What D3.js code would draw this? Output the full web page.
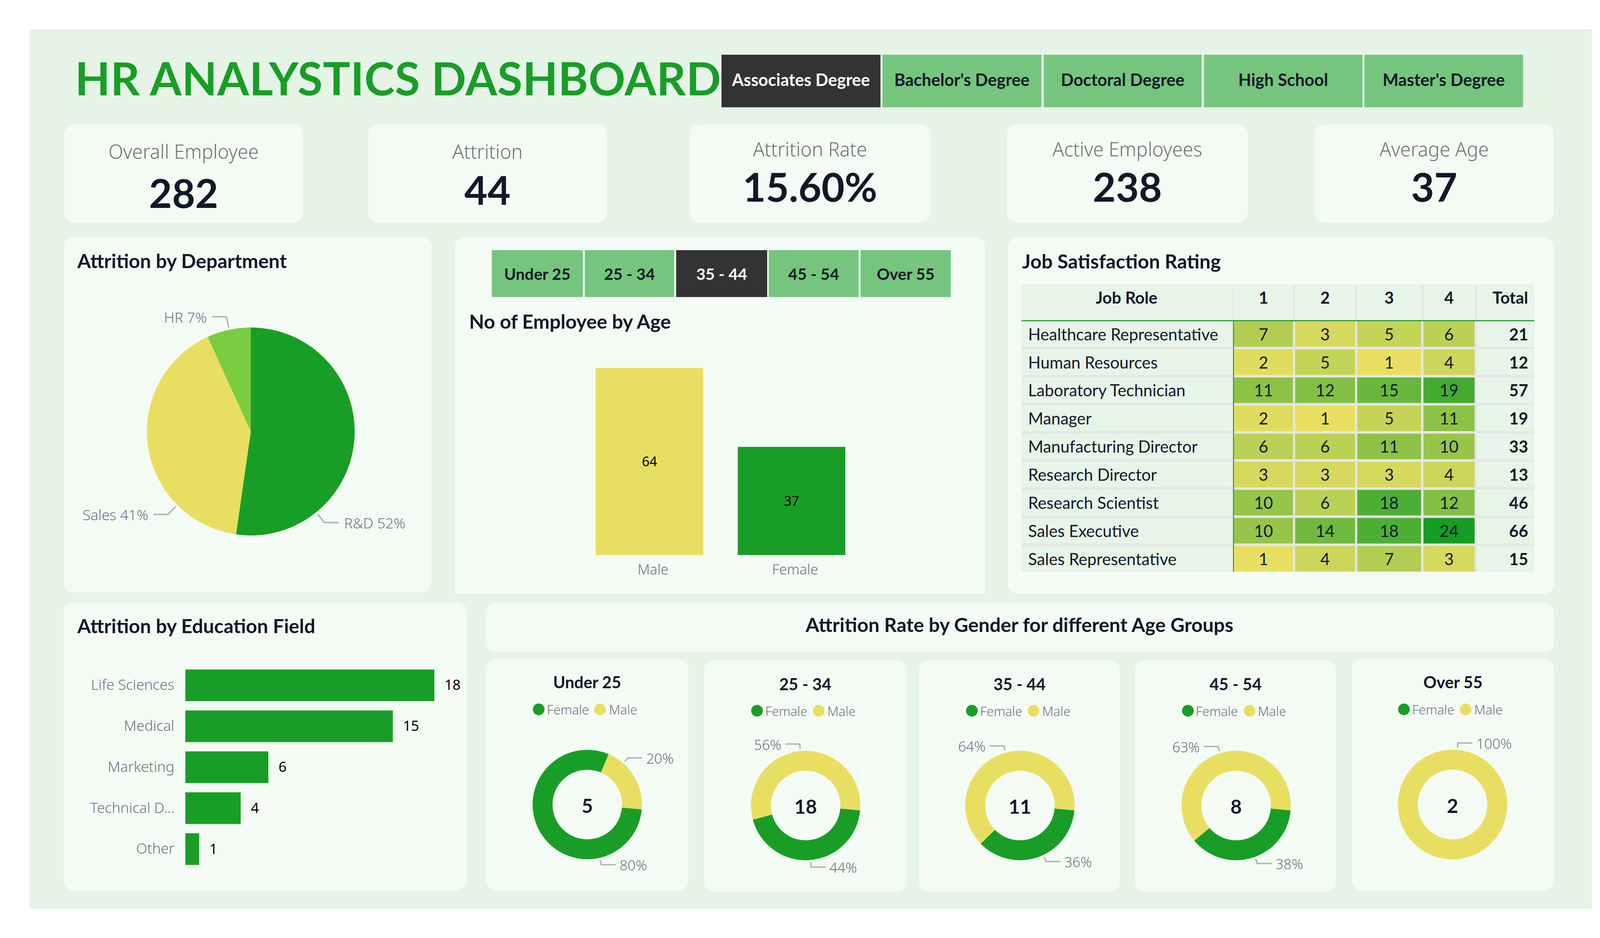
<!DOCTYPE html>
<html><head><meta charset="utf-8">
<script src="https://cdnjs.cloudflare.com/ajax/libs/d3/7.8.5/d3.min.js"></script>
<style>html,body{margin:0;padding:0;background:#fff}svg{display:block}</style></head>
<body><svg id="c" width="4150" height="2400" viewBox="0 0 4150 2400"></svg>
<script>
// ---------- data ----------
const dashboardTitle = "HR ANALYSTICS DASHBOARD";
const degreeOptions = ["Associates Degree","Bachelor's Degree","Doctoral Degree","High School","Master's Degree"];
const selectedDegree = "Associates Degree";
const ageOptions = ["Under 25","25 - 34","35 - 44","45 - 54","Over 55"];
const selectedAge = "35 - 44";
const kpiLabels = ["Overall Employee","Attrition","Attrition Rate","Active Employees","Average Age"];
const kpiValues = ["282","44","15.60%","238","37"];
const departments = ["R&D","Sales","HR"];
const departmentAttrition = [23,18,3];
const genderLabels = ["Male","Female"];
const employeesByGender = [64,37];
const jobRoles = ["Healthcare Representative","Human Resources","Laboratory Technician","Manager","Manufacturing Director","Research Director","Research Scientist","Sales Executive","Sales Representative"];
const ratings = ["1","2","3","4"];
const rating1 = [7,2,11,2,6,3,10,10,1];
const rating2 = [3,5,12,1,6,3,6,14,4];
const rating3 = [5,1,15,5,11,3,18,18,7];
const rating4 = [6,4,19,11,10,4,12,24,3];
const roleTotals = [21,12,57,19,33,13,46,66,15];
const educationFields = ["Life Sciences","Medical","Marketing","Technical D...","Other"];
const educationAttrition = [18,15,6,4,1];
const femaleByAge = [4,8,4,3,0];
const maleByAge = [1,10,7,5,2];

// ---------- style ----------
const HEAD = "Lato, sans-serif", BODY = "'Noto Sans', sans-serif";
const GREEN="#189E26", YELLOW="#E8DF62", LIME="#7ACC40", INK="#111827", GREY="#6B7280", LEAD="#ADB1B7";
const PANEL="#E6F4E8", CARD="#F4FBF4", CHIP="#75C57F", DARK="#333333";
const svg = d3.select("#c");

function rect(g,x,y,w,h,fill,r){return g.append("rect").attr("x",x).attr("y",y).attr("width",w).attr("height",h).attr("fill",fill).attr("rx",r||0);}
function text(g,s,x,y,o){o=o||{};return g.append("text").text(s).attr("x",x).attr("y",y)
  .attr("font-family",o.family||HEAD).attr("font-size",o.size||42).attr("font-weight",o.weight||400)
  .attr("fill",o.fill||INK).attr("text-anchor",o.anchor||"start").attr("letter-spacing",o.ls||null);}

rect(svg,75,75,4000,2250,PANEL);

// title
text(svg,dashboardTitle,192,244,{size:117,weight:700,fill:GREEN,ls:0.6});

// slicers
function chips(options,selected,edges,top,height,baseline,size){
  const g=svg.append("g");
  options.forEach((o,i)=>{
    const on=o===selected;
    rect(g,edges[i][0],top,edges[i][1]-edges[i][0],height,on?DARK:CHIP);
    text(g,o,(edges[i][0]+edges[i][1])/2,baseline,{size:size,weight:700,fill:on?"#fff":INK,anchor:"middle"});
  });
}
chips(degreeOptions,selectedDegree,[[1847,2254],[2259,2666],[2672,3076],[3082,3488],[3493,3899]],140,134.5,220,size=43);

// KPI cards
const kpiBoxes=[[165,775,406,532],[943,1553,406,524],[1766,2381,400,516],[2578,3194,400,516],[3366,3977,400,516]];
kpiLabels.forEach((l,i)=>{
  const b=kpiBoxes[i],cx=(b[0]+b[1])/2;
  rect(svg,b[0],319,b[1]-b[0],250,CARD,24);
  text(svg,l,cx,b[2],{family:BODY,size:49,weight:300,fill:"#6E6E6E",anchor:"middle"});
  text(svg,kpiValues[i],cx,b[3],{size:102,weight:700,anchor:"middle"});
});

// cards
rect(svg,164,606,940,909,CARD,24);
rect(svg,1165,606,1357,913,CARD,24);
rect(svg,1165,1480,1357,39,CARD,0);
rect(svg,2581,607,1397,912,CARD,24);
rect(svg,163,1541,1032,737,CARD,24);
rect(svg,1244,1543,2734,125,CARD,24);

text(svg,"Attrition by Department",198,686,{size:50,weight:700});
text(svg,"No of Employee by Age",1201,841,{size:50,weight:700});
text(svg,"Job Satisfaction Rating",2617,687,{size:50,weight:700});
text(svg,"Attrition by Education Field",198,1620,{size:50,weight:700});
text(svg,"Attrition Rate by Gender for different Age Groups",2610,1617,{size:50,weight:700,anchor:"middle"});

// pie
function polar(cx,cy,r,deg){const a=deg*Math.PI/180;return [cx+r*Math.sin(a),cy-r*Math.cos(a)];}
function leader(g,cx,cy,r,deg,side,label,lbl){
  const p0=polar(cx,cy,r+6,deg),p1=polar(cx,cy,r+(lbl.reach||34),deg),p2=[p1[0]+side*(lbl.run||37),p1[1]];
  g.append("path").attr("d",d3.line()([p0,p1,p2])).attr("fill","none").attr("stroke",LEAD).attr("stroke-width",3.5);
  text(g,label,p2[0]+side*(lbl.gap||12),p1[1]+(lbl.dy||15),{family:BODY,size:lbl.size||36,weight:300,fill:GREY,anchor:side>0?"start":"end"});
}
const pieG=svg.append("g");
const pieCx=642,pieCy=1104,pieR=266;
const pieArcs=d3.pie().sort(null)(departmentAttrition);
const pieColor=d3.scaleOrdinal().domain(departments).range([GREEN,YELLOW,LIME]);
const pieArc=d3.arc().innerRadius(0).outerRadius(pieR);
pieG.selectAll("path").data(pieArcs).join("path").attr("transform",`translate(${pieCx},${pieCy})`)
  .attr("d",pieArc).attr("fill",(d,i)=>pieColor(departments[i]));
const pieTotal=d3.sum(departmentAttrition);
const pieLeaderDeg=[141,225,-12], pieSide=[1,-1,-1];
departments.forEach((d,i)=>leader(pieG,pieCx,pieCy,pieR,pieLeaderDeg[i],pieSide[i],`${d} ${Math.round(departmentAttrition[i]/pieTotal*100)}%`,{size:37,gap:13}));

// employee bars
chips(ageOptions,selectedAge,[[1259,1492],[1497,1726],[1731,1964],[1968,2198],[2203,2434]],640,120,716,41);
const empX=d3.scaleBand().domain(genderLabels).range([1525,2164]).paddingInner(0.243);
const empY=d3.scaleLinear().domain([0,64]).range([1420,941.5]);
const empG=svg.append("g");
empG.selectAll("rect").data(employeesByGender).join("rect")
  .attr("x",(d,i)=>empX(genderLabels[i])).attr("width",empX.bandwidth())
  .attr("y",d=>empY(d)).attr("height",d=>empY(0)-empY(d))
  .attr("fill",(d,i)=>i===0?YELLOW:GREEN);
empG.selectAll("text.v").data(employeesByGender).join("text").attr("class","v")
  .attr("x",(d,i)=>empX(genderLabels[i])+empX.bandwidth()/2).attr("y",d=>(empY(d)+empY(0))/2+12)
  .attr("text-anchor","middle").attr("font-family",BODY).attr("font-size",34).attr("fill","#000").text(d=>d);
const empAxis=svg.append("g").attr("transform","translate(9,1420)")
  .call(d3.axisBottom(empX).tickSize(0).tickPadding(24));
empAxis.select(".domain").remove();
empAxis.selectAll("text").attr("font-family",BODY).attr("font-size",36).attr("font-weight",300).attr("fill",GREY);

// table
const tbl=svg.append("g");
const colEdges=[[3159,3310],[3315.5,3469],[3474.5,3638],[3644,3775]];
const colScale=d3.scaleOrdinal().domain(ratings).range(colEdges);
const rowY=d3.scaleBand().domain(jobRoles).range([822,1462.5]).paddingInner(0.09);
const heat=d3.scaleLinear().domain([1,24]).range([YELLOW,"#169D25"]).interpolate(d3.interpolateRgb);
const ratingSeries=[rating1,rating2,rating3,rating4];
rect(tbl,2615,728,1313,734.5,"#E7F4E8");
jobRoles.slice(1).forEach(r=>rect(tbl,2615,rowY(r)-rowY.step()+rowY.bandwidth(),1313,rowY.step()-rowY.bandwidth(),"#E6E6E6"));
[[3156,3159],[3310,3315.5],[3469,3474.5],[3638,3644],[3775,3781]].forEach(e=>rect(tbl,e[0],728,e[1]-e[0],734.5,"#E6E6E6"));
rect(tbl,2615,819,1313,3,"#2BA136");
rect(tbl,3156.5,819,2.5,643.5,"#2BA136");
text(tbl,"Job Role",2884,777,{size:42,weight:700,anchor:"middle"});
ratings.forEach(r=>{const e=colScale(r);text(tbl,r,(e[0]+e[1])/2,777,{size:42,weight:700,anchor:"middle"});});
text(tbl,"Total",3912,777,{size:42,weight:700,anchor:"end"});
jobRoles.forEach((role,i)=>{
  const y=rowY(role),h=rowY.bandwidth();
  text(tbl,role,2632,y+h/2+16,{size:42});
  ratings.forEach((r,k)=>{
    const e=colScale(r),v=ratingSeries[k][i];
    rect(tbl,e[0],y,e[1]-e[0],h,heat(v));
    text(tbl,v,(e[0]+e[1])/2,y+h/2+16,{size:42,anchor:"middle"});
  });
  text(tbl,roleTotals[i],3912,y+h/2+16,{size:42,weight:700,anchor:"end"});
});

// education bars
const eduY=d3.scaleBand().domain(educationFields).range([1713,2213]).paddingInner(0.227);
const eduX=d3.scaleLinear().domain([0,18]).range([474.5,1112]);
const eduG=svg.append("g");
eduG.selectAll("rect").data(educationAttrition).join("rect")
  .attr("x",eduX(0)).attr("y",(d,i)=>eduY(educationFields[i])).attr("height",eduY.bandwidth())
  .attr("width",d=>eduX(d)-eduX(0)).attr("fill",GREEN);
eduG.selectAll("text").data(educationAttrition).join("text")
  .attr("x",d=>eduX(d)+26).attr("y",(d,i)=>eduY(educationFields[i])+eduY.bandwidth()/2+12)
  .attr("font-family",BODY).attr("font-size",36).attr("fill","#000").text(d=>d);
const eduAxis=svg.append("g").attr("transform","translate(474.5,0)")
  .call(d3.axisLeft(eduY).tickSize(0).tickPadding(28));
eduAxis.select(".domain").remove();
eduAxis.selectAll("text").attr("font-family",BODY).attr("font-size",37).attr("font-weight",300).attr("fill",GREY);

// donuts
const donutLayout=[
 {card:[1244,1762,1687,2278],cx:1503.5,cy:2058.5,title:1761,legend:1815,dots:[1379,1536],txt:[1400,1559],leaders:[[167,1,26],[41,1,26]]},
 {card:[1803,2320,1690,2281],cx:2062.5,cy:2061,title:1766,legend:1818.5,dots:[1938,2096],txt:[1959,2118],leaders:[[175,1,26],[-5.5,-1,26]]},
 {card:[2353,2867,1690,2281],cx:2611,cy:2061,title:1766,legend:1818.5,dots:[2488,2646],txt:[2509,2668],leaders:[[155,1,26],[-15,-1,26]]},
 {card:[2906,3420,1690,2281],cx:3164.5,cy:2061,title:1766,legend:1818.5,dots:[3041,3199],txt:[3061,3220],leaders:[[160,1,26],[-17,-1,26]]},
 {card:[3461,3978,1687,2278],cx:3718.5,cy:2058.5,title:1761,legend:1815,dots:[3594,3752],txt:[3615,3774],leaders:[[0,1,26],[5,1,26]]}
];
const dArc=d3.arc().innerRadius(89).outerRadius(140);
const dPie=d3.pie().sort(null).startAngle(95*Math.PI/180).endAngle(455*Math.PI/180);
ageOptions.forEach((age,i)=>{
  const L=donutLayout[i],g=svg.append("g");
  rect(g,L.card[0],L.card[2],L.card[1]-L.card[0],L.card[3]-L.card[2],CARD,24);
  text(g,age,(L.card[0]+L.card[1])/2,L.title,{size:42,weight:700,anchor:"middle"});
  ["Female","Male"].forEach((n,k)=>{
    g.append("circle").attr("cx",L.dots[k]).attr("cy",L.legend).attr("r",15).attr("fill",k?YELLOW:GREEN);
    text(g,n,L.txt[k],L.legend+13,{family:BODY,size:33,weight:300,fill:GREY});
  });
  const vals=[femaleByAge[i],maleByAge[i]],tot=d3.sum(vals);
  g.selectAll("path.s").data(dPie(vals)).join("path").attr("class","s")
    .attr("transform",`translate(${L.cx},${L.cy})`).attr("d",dArc).attr("fill",(d,k)=>k?YELLOW:GREEN);
  text(g,tot,L.cx,L.cy+21,{size:50,weight:700,anchor:"middle"});
  vals.forEach((v,k)=>{
    if(!v)return;
    const ld=L.leaders[k];
    leader(g,L.cx,L.cy,140,ld[0],ld[1],`${Math.round(v/tot*100)}%`,{reach:18,run:37,gap:10,dy:15,size:36});
  });
});
</script></body></html>
